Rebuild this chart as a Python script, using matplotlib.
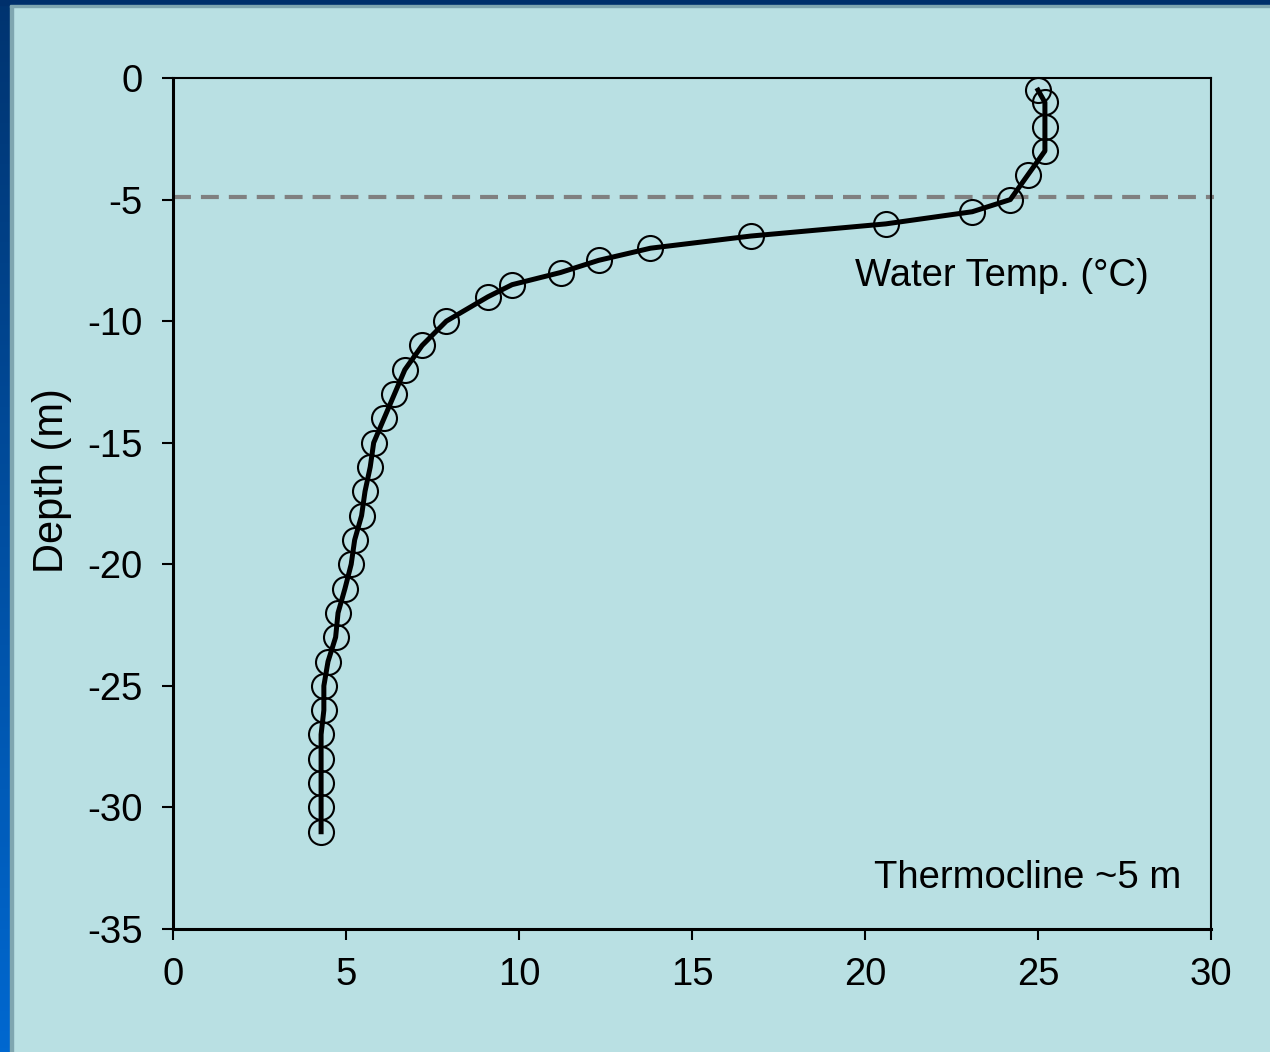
import numpy as np
import matplotlib
matplotlib.use("Agg")
from matplotlib import pyplot as plt
from matplotlib.patches import Rectangle
from matplotlib.colors import LinearSegmentedColormap

# temperature profile (deg C) vs depth (m)
temp = [25.0, 25.2, 25.2, 25.2, 24.7, 24.2, 23.1, 20.6, 16.7, 13.8, 12.3,
        11.2, 9.8, 9.1, 7.9, 7.2, 6.7, 6.4, 6.1, 5.8, 5.7, 5.55, 5.45, 5.25,
        5.15, 4.97, 4.77, 4.7, 4.48, 4.36, 4.36, 4.28, 4.28, 4.28, 4.28, 4.28]
depth = [-0.5, -1, -2, -3, -4, -5, -5.5, -6, -6.5, -7, -7.5,
         -8, -8.5, -9, -10, -11, -12, -13, -14, -15, -16, -17, -18, -19,
         -20, -21, -22, -23, -24, -25, -26, -27, -28, -29, -30, -31]
thermocline = -4.9
x_ticks = [0, 5, 10, 15, 20, 25, 30]
y_ticks = [0, -5, -10, -15, -20, -25, -30, -35]

bg = "#b9e0e3"
plt.rcParams['font.family'] = ['Liberation Sans', 'DejaVu Sans']
plt.rcParams['axes.unicode_minus'] = False

W, H = 1270, 1052
fig = plt.figure(figsize=(W / 100, H / 100), dpi=100, facecolor=bg)

# slide frame: blue gradient on the left, dark bar on top
side = fig.add_axes([0, 0, 10 / W, 1])
cmap = LinearSegmentedColormap.from_list("frame", ["#0068d0", "#003470"])
side.imshow(np.linspace(0, 1, 256).reshape(-1, 1), cmap=cmap, aspect="auto",
            origin="lower", extent=[0, 1, 0, 1])
side.axis("off")
fig.patches.append(Rectangle((10 / W, 0), 3 / W, 1 - 5 / H, transform=fig.transFigure,
                             color="#7fa6b0", zorder=0))
fig.patches.append(Rectangle((0, 1 - 5 / H), 1, 5 / H, transform=fig.transFigure,
                             color="#00306c", zorder=1))
fig.patches.append(Rectangle((10 / W, 1 - 7 / H), 1, 2 / H, transform=fig.transFigure,
                             color="#7fa6b0", zorder=1))

ax = fig.add_axes([173 / W, 1 - 929 / H, 1038 / W, 851 / H])
ax.set_facecolor(bg)

ax.plot([0, 30.1], [thermocline, thermocline], color="#808080", lw=3,
        dashes=(4.3, 2.4), clip_on=False, zorder=1)
ax.plot(temp, depth, color="black", lw=3.6, zorder=3)
ax.plot(temp, depth, linestyle="none", marker="o", markersize=18,
        markerfacecolor="none", markeredgecolor="black", markeredgewidth=1.5,
        zorder=4, clip_on=False)

ax.set_xlim(0, 30)
ax.set_ylim(-35, 0)
ax.set_xticks(x_ticks)
ax.set_yticks(y_ticks)
ax.tick_params(direction="out", length=8, width=1.5, labelsize=27.5, pad=14,
               colors="black")
ax.tick_params(axis="x", pad=12)
for side_name, lw in [("left", 2.2), ("bottom", 2.2), ("top", 1.5), ("right", 1.5)]:
    ax.spines[side_name].set_linewidth(lw)
    ax.spines[side_name].set_color("black")

ax.set_ylabel("Depth (m)", fontsize=30)
ax.yaxis.set_label_coords(-0.097, 0.527)

ax.text(23.96, -8.14, "Water Temp. (\u00b0C)", fontsize=27.5, ha="center", va="center")
ax.text(24.7, -32.9, "Thermocline ~5 m", fontsize=27.5, ha="center", va="center")

fig.savefig("out.png", dpi=100, facecolor=bg)
